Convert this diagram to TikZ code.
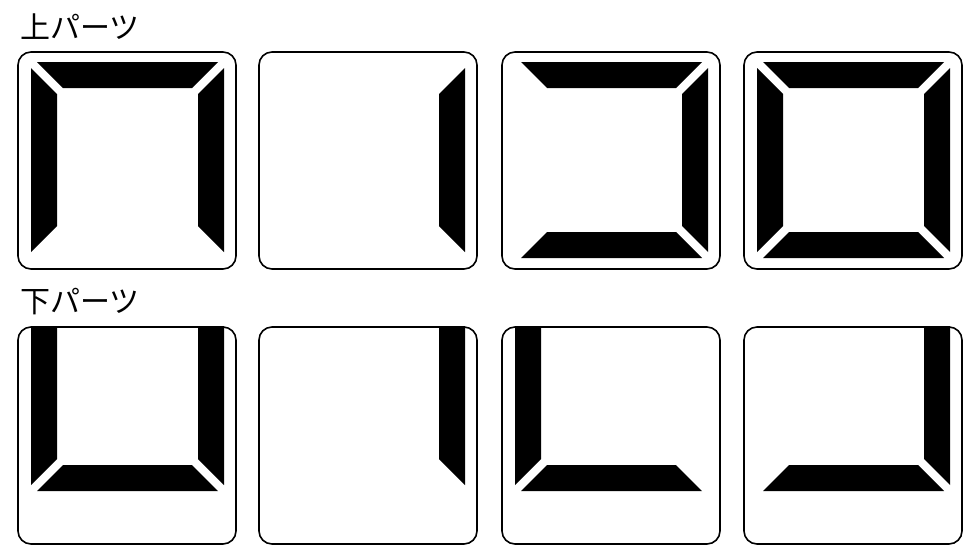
\documentclass[tikz,border=0pt]{standalone}
\usepackage{fontspec}
\newfontfamily\jpfont{Noto Sans CJK JP}
\begin{document}
\begin{tikzpicture}[x=1pt,y=-1pt,
  keybox/.style={draw=black,line width=1.6pt,rounded corners=13pt,fill=white},
  segfill/.style={fill=black,draw=none},
  lbl/.style={anchor=west,inner sep=0pt,font=\jpfont\fontsize{30}{30}\selectfont}]
\useasboundingbox[fill=white] (0,0) rectangle (963,550);
% segment macros (relative to key box top-left)
\newcommand\uTop{\fill[segfill] (19,10) -- (200,10) -- (174,36) -- (45,36) -- cycle;}
\newcommand\uLeft{\fill[segfill] (13,16) -- (39,42) -- (39,174) -- (13,200) -- cycle;}
\newcommand\uRight{\fill[segfill] (206,16) -- (206,200) -- (180,174) -- (180,42) -- cycle;}
\newcommand\uBot{\fill[segfill] (19,206) -- (200,206) -- (174,180) -- (45,180) -- cycle;}
\newcommand\lLeft{\fill[segfill] (13,-1) -- (39,-1) -- (39,132) -- (13,158) -- cycle;}
\newcommand\lRight{\fill[segfill] (206,-1) -- (206,158) -- (180,132) -- (180,-1) -- cycle;}
\newcommand\lBot{\fill[segfill] (19,164) -- (200,164) -- (174,138) -- (45,138) -- cycle;}
\newcommand\keyframe{\draw[keybox] (0,0) rectangle (218,217);}
% labels
\node[lbl] (upper) at (20,27) {上パーツ};
\node[lbl] (lower) at (20,302) {下パーツ};
% upper row
\begin{scope}[shift={(18,52)}]\keyframe\uTop\uLeft\uRight\end{scope}
\begin{scope}[shift={(259,52)}]\keyframe\uRight\end{scope}
\begin{scope}[shift={(502,52)}]\keyframe\uTop\uRight\uBot\end{scope}
\begin{scope}[shift={(744,52)}]\keyframe\uTop\uLeft\uRight\uBot\end{scope}
% lower row
\begin{scope}[shift={(18,327)}]\keyframe\lLeft\lRight\lBot\end{scope}
\begin{scope}[shift={(259,327)}]\keyframe\lRight\end{scope}
\begin{scope}[shift={(502,327)}]\keyframe\lLeft\lBot\end{scope}
\begin{scope}[shift={(744,327)}]\keyframe\lRight\lBot\end{scope}
\end{tikzpicture}
\end{document}
